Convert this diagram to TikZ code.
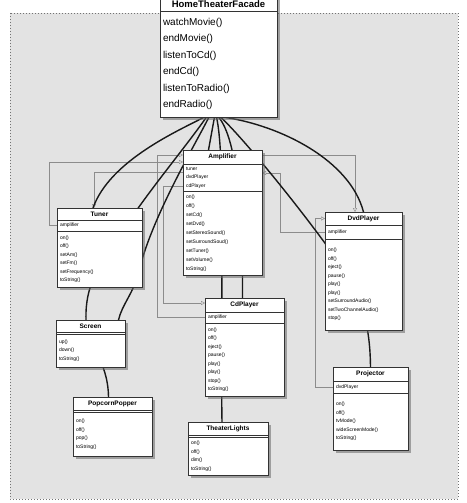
\documentclass[tikz,border=0pt]{standalone}
\usepackage{fontspec}
\setmainfont{Liberation Sans}
\usetikzlibrary{positioning,shadows,arrows.meta}
\pgfdeclarelayer{back}
\pgfdeclarelayer{links}
\pgfsetlayers{back,links,main}

\begin{document}
\begin{tikzpicture}[x=1pt,y=-1pt,
	cls/.style={draw=black!80,fill=white,line width=0.5pt,inner xsep=3pt,inner ysep=0pt,outer sep=0pt,
		drop shadow={shadow xshift=3pt,shadow yshift=-3pt,opacity=0.55,fill=black!60}},
	clshead/.style 2 args={cls,text width=#1,minimum height=#2,align=center,font=\bfseries\fontsize{6.5}{7}\selectfont},
	clspart/.style 2 args={cls,text width=#1,minimum height=#2,align=left,font=\fontsize{5}{8.5}\selectfont},
	uses/.style={line width=1.4pt,black!90},
	ref/.style={draw=black!45,line width=0.4pt,-{Triangle[open,length=4pt,width=4pt]}}]
		\useasboundingbox (0,0) rectangle (466,503);
		\begin{pgfonlayer}{back}
		\fill[white] (0,0) rectangle (466,503);
		\fill[black!11] (10,13) rectangle (458,499);
		\draw[black!55,line width=0.9pt,dash pattern=on 0.9pt off 2.1pt] (10,13) rectangle (458,499);
		\end{pgfonlayer}

		\node[clshead={111pt}{14pt},anchor=north west,font=\bfseries\fontsize{9.5}{10}\selectfont] (fach) at (160,-3) {HomeTheaterFacade};
		\node[clspart={111pt}{106pt},below=0pt of fach,font=\fontsize{10}{16.4}\selectfont] (facm) {watchMovie()\\endMovie()\\listenToCd()\\endCd()\\listenToRadio()\\endRadio()};

		\node[clshead={73pt}{14pt},anchor=north west] (amph) at (183,150) {Amplifier};
		\node[clspart={73pt}{27pt},below=0pt of amph] (ampa) {tuner\\dvdPlayer\\cdPlayer};
		\node[clspart={73pt}{84pt},below=0pt of ampa,font=\fontsize{5}{9}\selectfont] (ampm) {on()\\off()\\setCd()\\setDvd()\\setStereoSound()\\setSurroundSoud()\\setTuner()\\setVolume()\\toString()};

		\node[clshead={79pt}{12pt},anchor=north west] (tunerh) at (57,208) {Tuner};
		\node[clspart={79pt}{11pt},below=0pt of tunerh] (tunera) {amplifier};
		\node[clspart={79pt}{56pt},below=0pt of tunera] (tunerm) {on()\\off()\\setAm()\\setFm()\\setFrequency()\\toString()};

		\node[clshead={71pt}{13pt},anchor=north west] (dvdh) at (325,212) {DvdPlayer};
		\node[clspart={71pt}{14pt},below=0pt of dvdh] (dvda) {amplifier};
		\node[clspart={71pt}{91pt},below=0pt of dvda] (dvdm) {on()\\off()\\eject()\\pause()\\play()\\play()\\setSurroundAudio()\\setTwoChannelAudio()\\stop()};

		\node[clshead={73pt}{14pt},anchor=north west] (cdh) at (205,298) {CdPlayer};
		\node[clspart={73pt}{11pt},below=0pt of cdh] (cda) {amplifier};
		\node[clspart={73pt}{73pt},below=0pt of cda] (cdm) {on()\\off()\\eject()\\pause()\\play()\\play()\\stop()\\toString()};

		\node[clshead={74pt}{13pt},anchor=north west] (lightsh) at (188,422) {TheaterLights};
		\node[clspart={74pt}{2pt},below=0pt of lightsh] (lightsa) {};
		\node[clspart={74pt}{38pt},below=0pt of lightsa] (lightsm) {on()\\off()\\dim()\\toString()};

		\node[clshead={63pt}{12pt},anchor=north west] (screenh) at (56,320) {Screen};
		\node[clspart={63pt}{2pt},below=0pt of screenh] (screena) {};
		\node[clspart={63pt}{33pt},below=0pt of screena] (screenm) {up()\\down()\\toString()};

		\node[clshead={73pt}{13pt},anchor=north west] (popperh) at (73,397) {PopcornPopper};
		\node[clspart={73pt}{2pt},below=0pt of popperh] (poppera) {};
		\node[clspart={73pt}{44pt},below=0pt of poppera] (popperm) {on()\\off()\\pop()\\toString()};

		\node[clshead={69pt}{14pt},anchor=north west] (projh) at (333,367) {Projector};
		\node[clspart={69pt}{12pt},below=0pt of projh] (proja) {dvdPlayer};
		\node[clspart={69pt}{57pt},below=0pt of proja] (projm) {on()\\off()\\tvMode()\\wideScreenMode()\\toString()};

		\begin{pgfonlayer}{links}
		\draw[ref] ([yshift=5pt]ampa.west) -| ([xshift=-5.5pt]tunerh.north);
		\draw[ref] (tunera.west) -- ++(-8,0) |- ([yshift=-5pt]amph.west);
		\draw[ref] ([yshift=-9pt]ampa.west) -- ++(-20,0) |- ([yshift=2pt]cdh.west);
		\draw[ref] (cda.west) -- ++(-48,0) |- ([yshift=2pt]amph.west);
		\draw[ref] ([yshift=2pt]amph.east) -| ([xshift=-8.5pt]dvdh.north);
		\draw[ref] (dvda.west) -- ++(-45,0) |- ([yshift=4.5pt]ampa.east);
		\draw[ref] (proja.west) -- ++(-18,0) |- (dvdh.west);

		\draw[uses] ([xshift=-14pt]facm.south) .. controls (180,130) and (110,160) .. ([xshift=-6.5pt]tunerh.north);
		\draw[uses] ([xshift=-12pt]facm.south) .. controls (185,148) and (145,195) .. (120,235)
			.. controls (98,268) and (85,285) .. (86,320) .. controls (87,345) and (108,360) .. ([xshift=-4pt]popperh.north);
		\draw[uses] ([xshift=-9.5pt]facm.south) .. controls (195,145) and (150,220) .. (138,275)
			.. controls (132,295) and (122,305) .. ([xshift=28pt]screenh.north);
		\draw[uses] ([xshift=-4pt]facm.south) -- ([xshift=-14pt]amph.north);
		\draw[uses] ([xshift=-2pt]facm.south) .. controls (226,160) and (220,300) .. ([xshift=-6pt]lightsh.north);
		\draw[uses] (facm.south) .. controls (238,140) and (243,220) .. ([xshift=-2pt]cdh.north);
		\draw[uses] ([xshift=2pt]facm.south) .. controls (240,135) and (290,195) .. (330,250)
			.. controls (360,290) and (370,320) .. (projh.north);
		\draw[uses] ([xshift=4pt]facm.south) .. controls (280,125) and (350,160) .. (dvdh.north);
		\end{pgfonlayer}
	\end{tikzpicture}
\end{document}
